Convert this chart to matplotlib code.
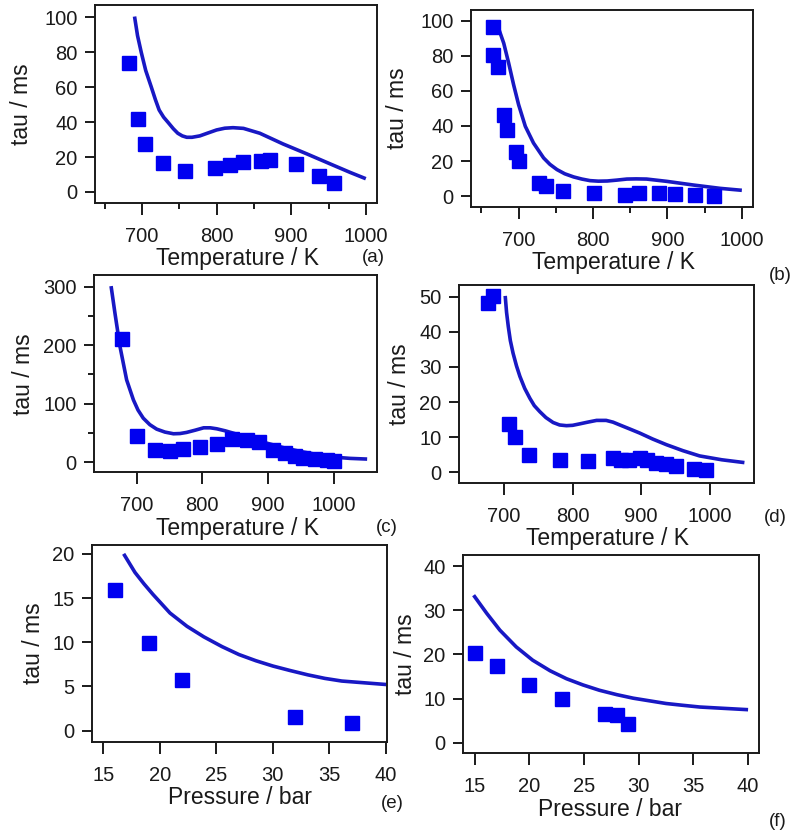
import matplotlib
matplotlib.use("Agg")
import matplotlib.pyplot as plt
from matplotlib.ticker import MultipleLocator, NullLocator

plt.rcParams['font.family'] = ['Liberation Sans', 'DejaVu Sans']

# ---- data ----
# (a)
a_T = [683, 695, 704, 728, 758, 798, 818, 836, 860, 871, 906, 937, 957]
a_tau = [73.7, 41.5, 27.4, 16.4, 12.0, 14.0, 15.2, 17.0, 17.8, 18.4, 15.8, 9.1, 5.0]
a_fit_T = [690, 694, 699, 705, 712.5, 718, 723, 729, 735, 742, 748, 754, 760, 767,
           777.5, 788, 800, 811, 822, 836, 858, 889, 921, 957, 979, 1000]
a_fit_tau = [100.4, 89.5, 79.9, 69.5, 60.0, 52.8, 46.9, 42.8, 39.8, 36.2, 33.6, 32.1, 31.3, 31.3,
             32.1, 33.7, 35.5, 36.5, 36.8, 36.4, 33.6, 27.5, 21.8, 15.2, 11.2, 7.6]

# (b)
b_T = [665, 665, 672, 680, 684, 696, 701, 728, 737, 760, 801, 843, 862, 888, 910, 937, 962]
b_tau = [96.2, 80.6, 73.5, 46.2, 37.7, 25.0, 20.3, 7.6, 5.7, 2.8, 1.9, 0.9, 1.9, 1.9, 1.5, 0.9, 0.4]
b_fit_T = [673, 680, 686.6, 693.3, 700, 709, 720, 733.6, 742, 751.5, 762, 774, 785, 796, 807,
           819, 832, 845.5, 858, 872, 899, 935, 971, 1000]
b_fit_tau = [95.6, 87.1, 75.8, 63.4, 52.1, 39.8, 30.3, 21.8, 18.2, 15.2, 12.8, 11.0, 9.8, 8.9, 8.6,
             8.7, 9.2, 9.8, 9.9, 9.8, 8.5, 6.4, 4.5, 3.4]

# (c)
c_T = [677, 700, 728, 751, 771, 796, 822, 845, 868, 886, 908, 926, 941, 954, 972, 990, 1000]
c_tau = [210.6, 45, 21, 19.4, 22, 25.6, 31.3, 39, 37, 35, 21, 15.4, 9.7, 6.8, 5.1, 2.8, 1.1]
c_fit_T = [661, 667, 674.6, 684.7, 695, 702, 710, 720, 730.5, 743, 756, 766, 776, 789, 802, 812,
           822, 835, 847, 872, 898, 923, 949, 975, 1000, 1025, 1051]
c_fit_tau = [301, 254, 197.5, 140.6, 106.4, 89.0, 75.1, 64.0, 56.3, 51.3, 48.4, 48.8, 50.7, 54.5,
             58.6, 58.6, 56.9, 53.4, 49.5, 41.0, 32.4, 24.8, 18.2, 12.8, 8.5, 6.3, 5.1]

# (d)
d_T = [677, 684, 707, 716, 737, 781, 823, 859, 871, 883, 898, 908, 922, 937, 951, 978, 995]
d_tau = [48.1, 50.2, 13.7, 10.2, 5.0, 3.6, 3.3, 4.1, 3.6, 3.4, 4.1, 3.6, 2.8, 2.4, 1.9, 1.0, 0.8]
d_fit_T = [701.5, 703.5, 706, 709, 713, 718, 723, 730, 737.5, 744, 752, 761, 771.5, 781, 791, 800,
           810, 822, 835, 849, 859, 869, 883, 898, 917, 937, 961, 985.5, 1018, 1051]
d_fit_tau = [50.2, 45.5, 41.5, 37.5, 33.9, 30.3, 27.3, 23.9, 21.1, 19.0, 17.3, 15.6, 14.2, 13.5, 13.3, 13.4,
             13.8, 14.3, 14.8, 14.8, 14.3, 13.5, 12.4, 11.2, 9.5, 7.9, 6.2, 4.7, 3.6, 2.8]

# (e)
e_P = [16, 19, 22, 32, 37]
e_tau = [15.9, 9.9, 5.7, 1.5, 0.9]
e_fit_P = [16.8, 17.8, 18.6, 19.4, 20.9, 22.4, 23.9, 25.5, 27.0, 28.5, 30.0, 31.5, 33.1, 34.6, 36.1, 38.1, 40.1]
e_fit_tau = [20.0, 17.9, 16.6, 15.4, 13.3, 11.8, 10.6, 9.5, 8.6, 7.9, 7.3, 6.8, 6.3, 5.9, 5.6, 5.4, 5.2]

# (f)
f_P = [15, 17, 20, 23, 26.9, 28, 29]
f_tau = [20.3, 17.3, 13.0, 10.0, 6.6, 6.2, 4.2]
f_fit_P = [14.9, 16.1, 17.3, 18.8, 20.3, 21.9, 23.4, 24.9, 26.4, 28.0, 29.5, 31.0, 32.5, 34.0, 35.6, 37.8, 40.0]
f_fit_tau = [33.4, 29.3, 25.5, 21.7, 18.7, 16.3, 14.5, 13.1, 11.9, 10.9, 10.1, 9.5, 8.9, 8.5, 8.1, 7.8, 7.5]

W, H = 800, 833
SQ = '#0000f0'
LINE = '#1818c4'

fig = plt.figure(figsize=(W / 100, H / 100), dpi=100)


def px_axes(left, top, right, bottom):
    return fig.add_axes([left / W, 1 - bottom / H, (right - left) / W, (bottom - top) / H])


def ftext(x, y, s, **kw):
    fig.text(x / W, 1 - y / H, s, ha='center', va='center', **kw)


def panel(rect, x, y, fx, fy, xlim, ylim, xmaj, xmin, ymaj, ymin):
    ax = px_axes(*rect)
    ax.plot(fx, fy, color=LINE, lw=2.6, solid_joinstyle='round', solid_capstyle='butt', zorder=2)
    ax.plot(x, y, 's', color=SQ, mec=SQ, ms=10.5, zorder=3)
    ax.set_xlim(*xlim)
    ax.set_ylim(*ylim)
    ax.xaxis.set_major_locator(MultipleLocator(xmaj))
    ax.xaxis.set_minor_locator(MultipleLocator(xmin) if xmin else NullLocator())
    ax.yaxis.set_major_locator(MultipleLocator(ymaj))
    ax.yaxis.set_minor_locator(MultipleLocator(ymin) if ymin else NullLocator())
    for s in ax.spines.values():
        s.set_linewidth(1.4)
        s.set_color('#1a1a1a')
    ax.tick_params(which='both', direction='out', width=1.4, color='#1a1a1a',
                   labelsize=14.5, labelcolor='#1a1a1a', top=False, right=False)
    ax.tick_params(axis='x', which='major', length=8.5, pad=9)
    ax.tick_params(axis='x', which='minor', length=4.5)
    ax.tick_params(axis='y', which='major', length=7.5, pad=5)
    ax.tick_params(axis='y', which='minor', length=4.5)
    return ax


panel((95, 5, 377, 203), a_T, a_tau, a_fit_T, a_fit_tau,
      (637, 1015), (-6.3, 107), 100, 50, 20, None)
panel((471, 10, 753, 207), b_T, b_tau, b_fit_T, b_fit_tau,
      (636, 1015), (-6.1, 106), 100, 50, 20, None)
panel((94, 275, 377, 472), c_T, c_tau, c_fit_T, c_fit_tau,
      (635, 1066), (-17, 320), 100, None, 100, 50)
panel((459, 285, 754, 483), d_T, d_tau, d_fit_T, d_fit_tau,
      (634, 1065), (-3.0, 53.3), 100, None, 10, None)
panel((92, 545, 387, 742), e_P, e_tau, e_fit_P, e_fit_tau,
      (14.0, 40.1), (-1.3, 21.0), 5, None, 5, None)
panel((463, 555, 759, 753), f_P, f_tau, f_fit_P, f_fit_tau,
      (13.93, 41.0), (-2.3, 42.5), 5, None, 10, None)

lab = dict(fontsize=16.5, color='#1a1a1a')
tag = dict(fontsize=13.5, color='#1a1a1a')

# y labels
for x, y in [(22, 104), (398, 108), (23, 374), (400, 384), (33, 643), (405, 654)]:
    ftext(x, y, 'tau / ms', rotation=90, **lab)

# x labels
ftext(237, 259, 'Temperature / K', **lab)
ftext(613, 262, 'Temperature / K', **lab)
ftext(237, 528, 'Temperature / K', **lab)
ftext(607, 538, 'Temperature / K', **lab)
ftext(240, 798, 'Pressure / bar', **lab)
ftext(610, 809, 'Pressure / bar', **lab)

# panel tags
ftext(373, 258, '(a)', **tag)
ftext(780, 275, '(b)', **tag)
ftext(387, 527, '(c)', **tag)
ftext(775, 518, '(d)', **tag)
ftext(392, 803, '(e)', **tag)
ftext(778, 822, '(f)', **tag)

fig.savefig('out.png', dpi=100)
